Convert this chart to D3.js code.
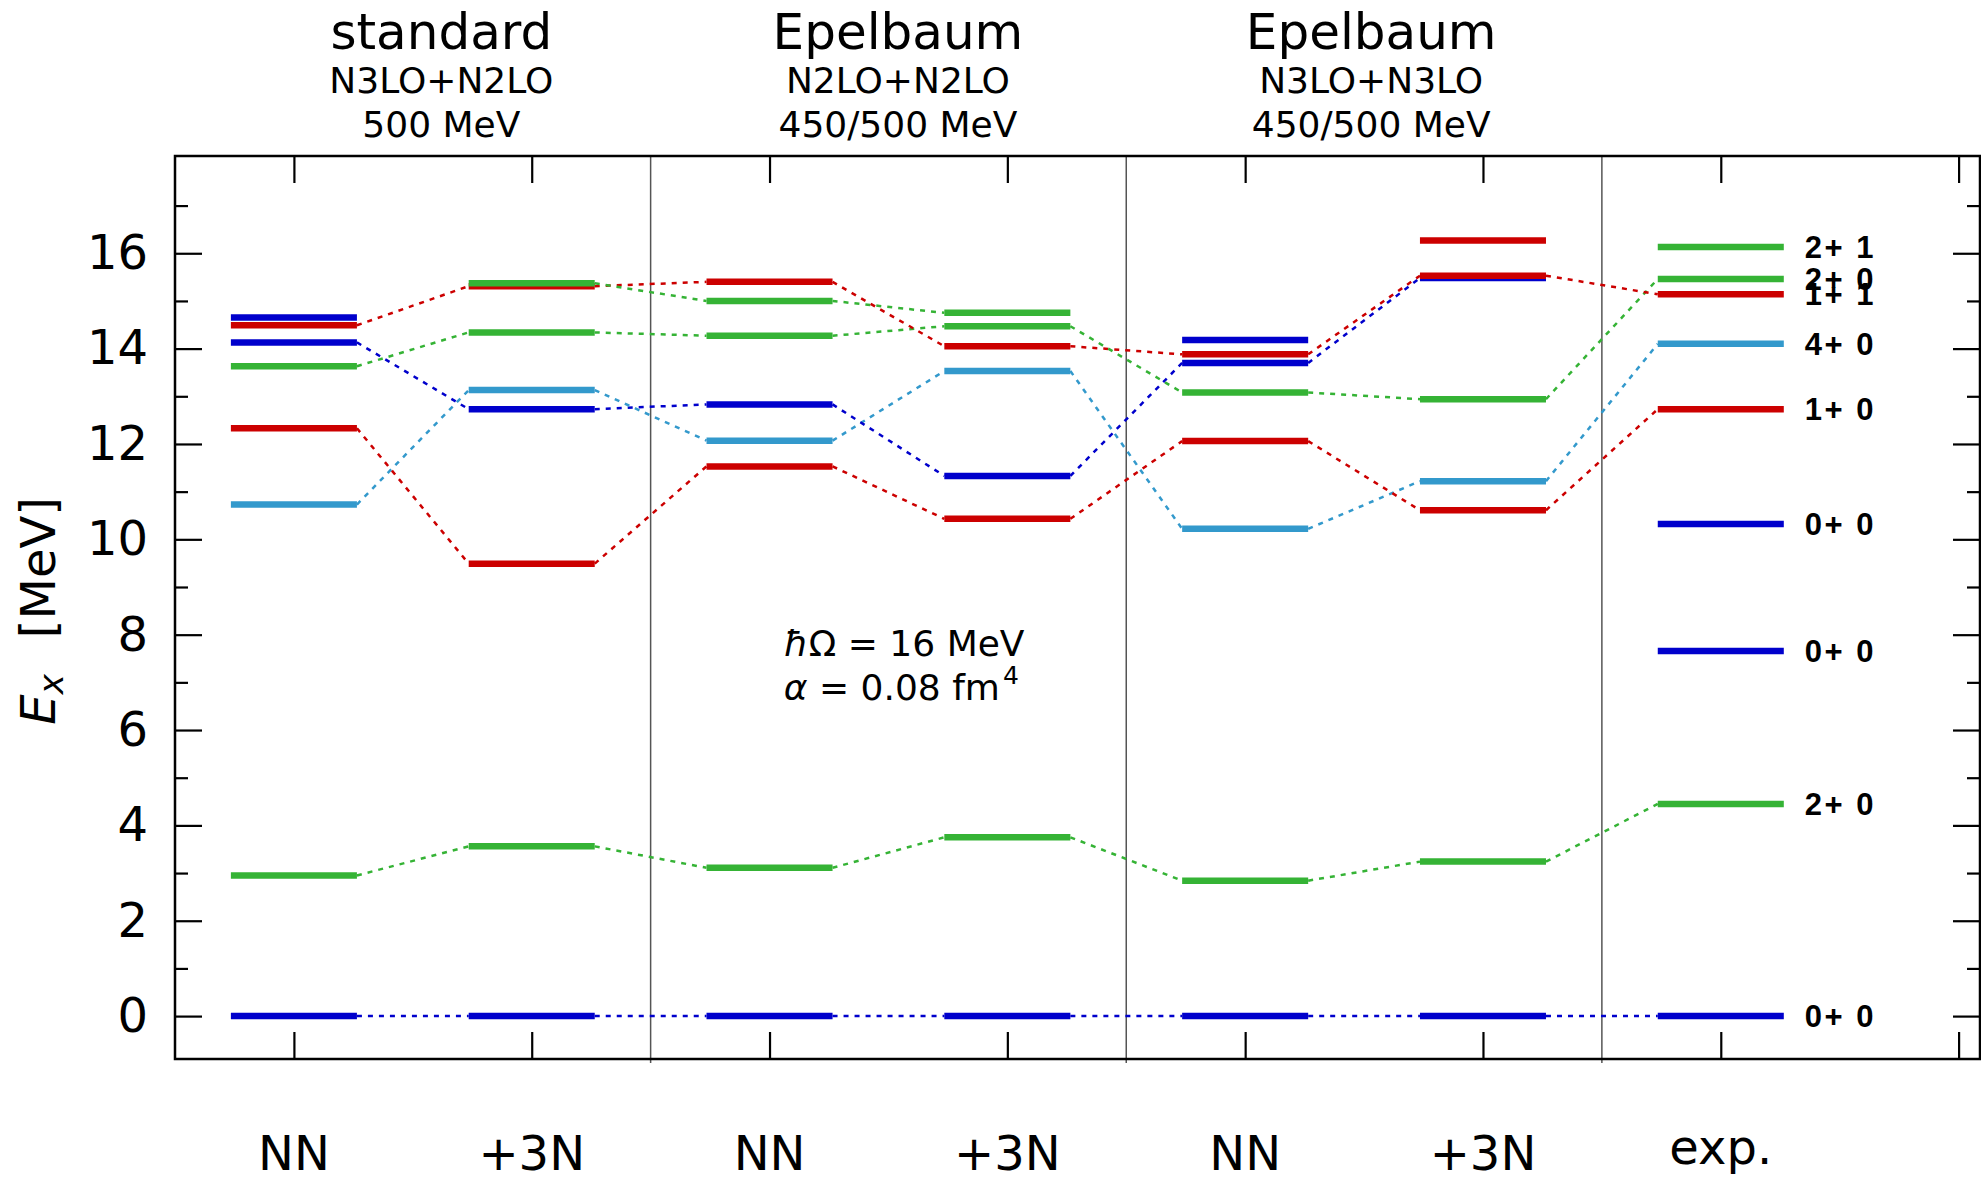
<!DOCTYPE html>
<html>
<head>
<meta charset="utf-8">
<script src="https://cdn.jsdelivr.net/npm/d3@7"></script>
<style>
  body { margin: 0; background: #fff; }
  text { font-family: "DejaVu Sans", sans-serif; fill: #000; }
  .lvl-label { font-family: "Liberation Sans", Arial, sans-serif; font-weight: bold; }
</style>
</head>
<body>
<script>
// column categories (x positions 1..7)
var columnLabels = ["NN", "+3N", "NN", "+3N", "NN", "+3N", "exp."]
var groupTitles = ["standard", "Epelbaum", "Epelbaum"]
var groupSub1 = ["N3LO+N2LO", "N2LO+N2LO", "N3LO+N3LO"]
var groupSub2 = ["500 MeV", "450/500 MeV", "450/500 MeV"]

// levels per column: [J, E_x in MeV], ascending energy
var stdNN = [[0, 0], [2, 2.95], [4, 10.73], [1, 12.33], [2, 13.63], [0, 14.13], [1, 14.49], [0, 14.65]]
var std3N = [[0, 0], [2, 3.56], [1, 9.49], [0, 12.73], [4, 13.13], [2, 14.34], [1, 15.31], [2, 15.37]]
var epN2NN = [[0, 0], [2, 3.11], [1, 11.53], [4, 12.07], [0, 12.83], [2, 14.27], [2, 15.00], [1, 15.40]]
var epN23N = [[0, 0], [2, 3.75], [1, 10.43], [0, 11.33], [4, 13.53], [1, 14.05], [2, 14.47], [2, 14.75]]
var epN3NN = [[0, 0], [2, 2.84], [4, 10.22], [1, 12.06], [2, 13.08], [0, 13.70], [1, 13.88], [0, 14.18]]
var epN33N = [[0, 0], [2, 3.24], [1, 10.61], [4, 11.22], [2, 12.94], [0, 15.48], [1, 15.53], [1, 16.27]]
var expLevels = [[0, 0], [2, 4.45], [0, 7.66], [0, 10.32], [1, 12.73], [4, 14.10], [1, 15.14], [2, 15.46], [2, 16.13]]
var expNames = ["0+ 0", "2+ 0", "0+ 0", "0+ 0", "1+ 0", "4+ 0", "1+ 1", "2+ 0", "2+ 1"]

// connections between neighbouring columns: [from column index, from level, to level]
var links = [
  [0, 0, 0], [0, 1, 1], [0, 2, 4], [0, 3, 2], [0, 4, 5], [0, 5, 3], [0, 6, 6],
  [1, 0, 0], [1, 1, 1], [1, 2, 2], [1, 3, 4], [1, 4, 3], [1, 5, 5], [1, 6, 7], [1, 7, 6],
  [2, 0, 0], [2, 1, 1], [2, 2, 2], [2, 3, 4], [2, 4, 3], [2, 5, 6], [2, 6, 7], [2, 7, 5],
  [3, 0, 0], [3, 1, 1], [3, 2, 3], [3, 3, 5], [3, 4, 2], [3, 5, 6], [3, 6, 4],
  [4, 0, 0], [4, 1, 1], [4, 2, 3], [4, 3, 2], [4, 4, 4], [4, 5, 5], [4, 6, 6],
  [5, 0, 0], [5, 1, 1], [5, 2, 4], [5, 3, 5], [5, 4, 7], [5, 6, 6]
]

var columns = [stdNN, std3N, epN2NN, epN23N, epN3NN, epN33N, expLevels]
var color = { 0: "#0000cc", 1: "#cc0000", 2: "#35b335", 4: "#3399cc" }

var width = 1981
var height = 1181
var halfBar = 0.265

var x = d3.scaleLinear().domain([0.5, 8.09]).range([175, 1980])
var y = d3.scaleLinear().domain([-0.9, 18.04]).range([1059, 156])

var svg = d3.select("body").append("svg")
  .attr("width", width)
  .attr("height", height)

// group separators
svg.selectAll(".sep")
  .data([2.5, 4.5, 6.5])
  .enter().append("line")
  .attr("x1", function (d) { return x(d) }).attr("x2", function (d) { return x(d) })
  .attr("y1", y.range()[1]).attr("y2", y.range()[0] + 4)
  .attr("stroke", "#555").attr("stroke-width", 1.5)

// axes with inward ticks
function styleAxis(g) {
  g.select(".domain").remove()
  g.selectAll("line").attr("stroke", "#000").attr("stroke-width", 2.2)
}
var major = d3.range(0, 17, 2)
var minor = d3.range(1, 18, 2)

svg.append("g").attr("transform", "translate(" + x.range()[0] + ",0)")
  .call(d3.axisLeft(y).tickValues(major).tickSize(-27).tickPadding(27).tickSizeOuter(0))
  .call(styleAxis)
  .call(function (g) {
    g.selectAll("text").attr("font-size", 48).attr("font-family", "DejaVu Sans").attr("fill", "#000")
  })
svg.append("g").attr("transform", "translate(" + x.range()[0] + ",0)")
  .call(d3.axisLeft(y).tickValues(minor).tickSize(-13).tickFormat("").tickSizeOuter(0))
  .call(styleAxis)
svg.append("g").attr("transform", "translate(" + x.range()[1] + ",0)")
  .call(d3.axisRight(y).tickValues(major).tickSize(-27).tickFormat("").tickSizeOuter(0))
  .call(styleAxis)
svg.append("g").attr("transform", "translate(" + x.range()[1] + ",0)")
  .call(d3.axisRight(y).tickValues(minor).tickSize(-13).tickFormat("").tickSizeOuter(0))
  .call(styleAxis)
svg.append("g").attr("transform", "translate(0," + y.range()[0] + ")")
  .call(d3.axisBottom(x).tickValues(d3.range(1, 9)).tickSize(-27).tickFormat("").tickSizeOuter(0))
  .call(styleAxis)
svg.append("g").attr("transform", "translate(0," + y.range()[1] + ")")
  .call(d3.axisTop(x).tickValues(d3.range(1, 9)).tickSize(-27).tickFormat("").tickSizeOuter(0))
  .call(styleAxis)

// frame
svg.append("rect")
  .attr("x", x.range()[0]).attr("y", y.range()[1])
  .attr("width", x.range()[1] - x.range()[0])
  .attr("height", y.range()[0] - y.range()[1])
  .attr("fill", "none").attr("stroke", "#000").attr("stroke-width", 2.5)

// dashed connections
svg.selectAll(".link")
  .data(links)
  .enter().append("line")
  .attr("class", "link")
  .attr("x1", function (d) { return x(d[0] + 1 + halfBar) })
  .attr("x2", function (d) { return x(d[0] + 2 - halfBar) })
  .attr("y1", function (d) { return y(columns[d[0]][d[1]][1]) })
  .attr("y2", function (d) { return y(columns[d[0] + 1][d[2]][1]) })
  .attr("stroke", function (d) { return color[columns[d[0]][d[1]][0]] })
  .attr("stroke-width", 2.5)
  .attr("stroke-dasharray", "5,6")

// level bars
columns.forEach(function (levels, ci) {
  svg.append("g").selectAll("line")
    .data(levels)
    .enter().append("line")
    .attr("x1", x(ci + 1 - halfBar)).attr("x2", x(ci + 1 + halfBar))
    .attr("y1", function (d) { return y(d[1]) })
    .attr("y2", function (d) { return y(d[1]) })
    .attr("stroke", function (d) { return color[d[0]] })
    .attr("stroke-width", 6.5)
})

// experimental level labels
svg.selectAll(".lvl-label")
  .data(expLevels)
  .enter().append("text")
  .attr("class", "lvl-label")
  .attr("x", x(7) + 84)
  .attr("y", function (d) { return y(d[1]) })
  .attr("dy", "0.36em")
  .attr("font-size", 31)
  .attr("letter-spacing", 2.5)
  .attr("xml:space", "preserve")
  .text(function (d, i) { return expNames[i] })

// column labels below
svg.selectAll(".col-label")
  .data(columnLabels)
  .enter().append("text")
  .attr("x", function (d, i) { return x(i + 1) })
  .attr("y", function (d) { return d === "exp." ? 1164 : 1170 })
  .attr("text-anchor", "middle")
  .attr("font-size", 48)
  .text(function (d) { return d })

// group titles above
var titleX = [1.62, 3.54, 5.53]
groupTitles.forEach(function (t, i) {
  var g = svg.append("g").attr("text-anchor", "middle")
  g.append("text").attr("x", x(titleX[i])).attr("y", 49).attr("font-size", 50).text(t)
  g.append("text").attr("x", x(titleX[i])).attr("y", 93).attr("font-size", 36).text(groupSub1[i])
  g.append("text").attr("x", x(titleX[i])).attr("y", 137).attr("font-size", 36).text(groupSub2[i])
})

// annotation
var note = svg.append("text").attr("font-size", 36)
  .attr("x", x(3.06)).attr("y", 656)
note.append("tspan").attr("font-style", "italic").text("ħ")
note.append("tspan").text("Ω = 16 MeV")
var note2 = svg.append("text").attr("font-size", 36)
  .attr("x", x(3.06)).attr("y", 700)
note2.append("tspan").attr("font-style", "italic").text("α")
note2.append("tspan").text(" = 0.08 fm")
note2.append("tspan").attr("font-size", 25).attr("dy", -16).attr("dx", 3).text("4")

// y axis title
var ylab = svg.append("text")
  .attr("transform", "translate(55," + y(8.5) + ") rotate(-90)")
  .attr("text-anchor", "middle")
  .attr("font-size", 48)
ylab.append("tspan").attr("font-style", "italic").text("E")
ylab.append("tspan").attr("font-style", "italic").attr("font-size", 34).attr("dy", 8).text("x")
ylab.append("tspan").attr("dy", -8).attr("dx", 36).text("[MeV]")
</script>
</body>
</html>
